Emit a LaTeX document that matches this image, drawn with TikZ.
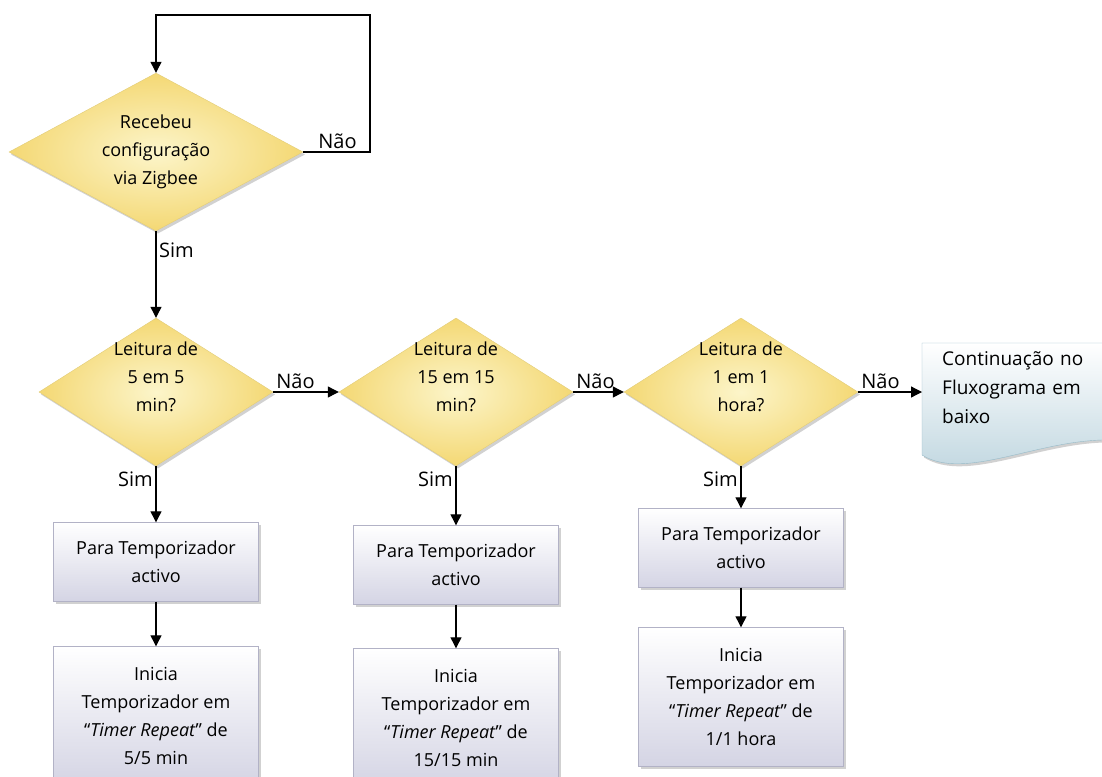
\documentclass[tikz,border=0pt]{standalone}
\usepackage{fontspec}
\setmainfont{Open Sans}
\usetikzlibrary{shapes.geometric,arrows.meta,shadows}
\definecolor{decline}{RGB}{226,204,120}
\definecolor{decin}{RGB}{252,245,202}
\definecolor{decout}{RGB}{244,216,116}
\definecolor{boxline}{RGB}{178,178,198}
\definecolor{boxbot}{RGB}{212,212,228}
\definecolor{docline}{RGB}{150,186,200}
\definecolor{docbot}{RGB}{188,212,222}

\begin{document}
\begin{tikzpicture}[x=1pt,y=-1pt,
  every node/.style={font=\fontsize{18}{28}\selectfont},
  shd/.style={drop shadow={shadow xshift=2pt,shadow yshift=-2.5pt,opacity=0.3,fill=black!60}},
  dec/.style={diamond,draw=decline,inner color=decin,outer color=decout,minimum width=234,minimum height=148,inner sep=0pt,shd},
  box/.style={rectangle,draw=boxline,top color=white,bottom color=boxbot,minimum width=205,align=center,inner sep=0pt,shd},
  txt/.style={align=center,inner sep=0pt},
  lbl/.style={inner sep=3pt,font=\fontsize{20}{24}\selectfont},
  arr/.style={line width=1.2pt,-{Triangle[length=11pt,width=11pt]}}]
\useasboundingbox (0,0) rectangle (1102,776);
\node[dec,minimum width=294,minimum height=158] (q0) at (156,152) {};
\node[txt] (qt0) at (q0) {Recebeu\\configuração\\via Zigbee};
\coordinate (back) at (370,15);
\draw[arr] (q0.east) -| (back) -| (q0.north);
\node[lbl,anchor=south west] (n0) at ([xshift=12pt]q0.east) {Não};
\node[lbl,anchor=north west] (s0) at ([yshift=-8pt]q0.south) {Sim};
\foreach \i/\x/\ya/\yb/\n/\u in %
{1/156/562/716/5/min,2/456/565/718/15/min,3/741/548/697/1/hora} {
   \node[dec] (q\i) at (\x,392) {};
   \node[txt] (qt\i) at ([yshift=15pt]q\i) {Leitura de\\\n{} em \n\\\u?};
   \node[box,minimum height=79] (p\i) at (\x,\ya) {Para Temporizador\\activo};
   \node[box,minimum height=139] (r\i) at (\x,\yb) {Inicia\\Temporizador em\\“\textit{Timer Repeat}” de\\\n/\n{} \u};
   \draw[arr] (q\i.south) -- (p\i.north);
   \draw[arr] (p\i.south) -- (r\i.north);
   \node[lbl,anchor=north east] (s\i) at ([yshift=-2pt]q\i.south) {Sim};
}
\draw[arr] (q0.south) -- (q1.north);
\path[draw=docline,top color=white,bottom color=docbot,shd]
   (922,343) -- (1112,343) -- (1112,440) .. controls (1040,438) and (965,482) .. (922,455) -- cycle;
\node[align=left,text width=162pt,minimum height=95,inner xsep=20pt,inner ysep=0pt,anchor=west,font=\fontsize{19}{29}\selectfont] (cont) at (922,388) {Continuação no\\Fluxograma em\\baixo};
\foreach \i/\j in {1/q2,2/q3,3/cont} {
   \draw[arr] (q\i.east) -- (q\i.east -| \j.west);
   \node[lbl,anchor=south west] (n\i) at (q\i.east) {Não};
}
\end{tikzpicture}
\end{document}
